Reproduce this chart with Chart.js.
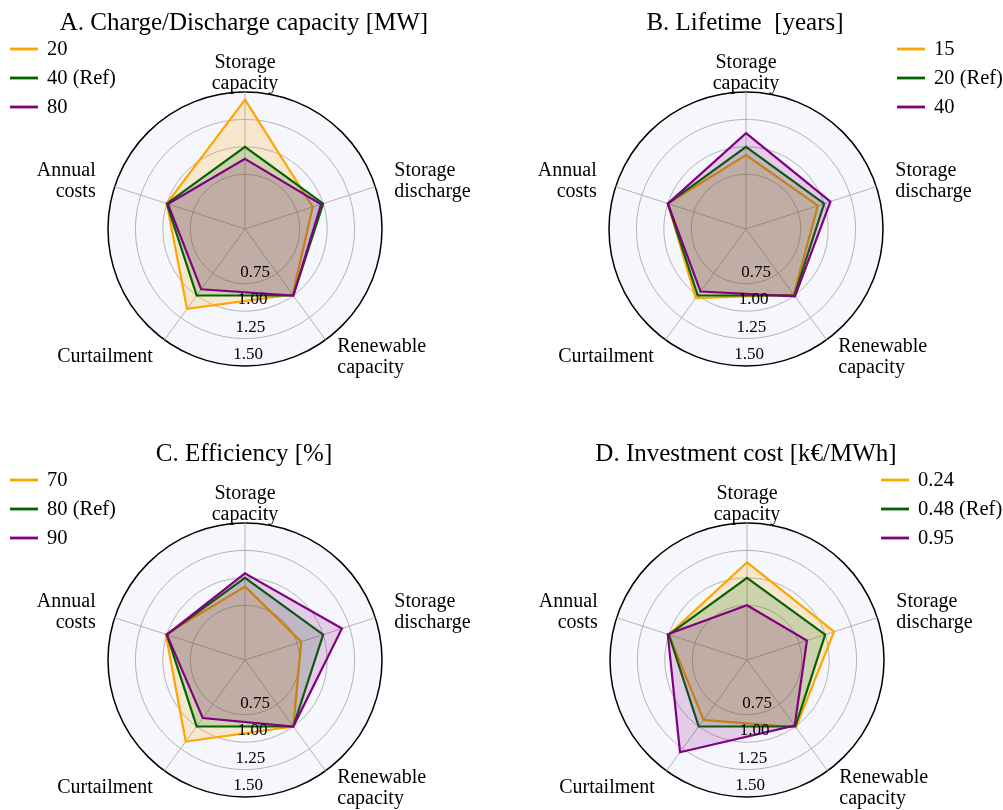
<!DOCTYPE html>
<html>
<head>
<meta charset="utf-8">
<script src="https://cdn.jsdelivr.net/npm/chart.js@4"></script>
<style>
  body { margin: 0; background: #fff; }
  .panel { position: absolute; width: 501px; height: 405px; }
</style>
</head>
<body>
<div class="panel" style="left:0;top:0"><canvas id="chartA" width="501" height="405"></canvas></div>
<div class="panel" style="left:501px;top:0"><canvas id="chartB" width="501" height="405"></canvas></div>
<div class="panel" style="left:0;top:405px"><canvas id="chartC" width="501" height="405"></canvas></div>
<div class="panel" style="left:501px;top:405px"><canvas id="chartD" width="501" height="405"></canvas></div>
<script>
// axes of every radar, clockwise from the top
const axisLabels = [["Storage", "capacity"], ["Storage", "discharge"], ["Renewable", "capacity"], ["Curtailment"], ["Annual", "costs"]];
const tickValues = [0.75, 1.00, 1.25, 1.50];

const titleA = "A. Charge/Discharge capacity [MW]";
const legendA = ["20", "40 (Ref)", "80"];
const lowA = [1.43, 0.90, 0.99, 1.15, 1.00];
const refA = [1, 1, 1, 1, 1];
const highA = [0.89, 0.98, 1.00, 0.93, 0.99];

const titleB = "B. Lifetime  [years]";
const legendB = ["15", "20 (Ref)", "40"];
const lowB = [0.925, 0.94, 0.99, 1.03, 1.00];
const refB = [1, 1, 1, 1, 1];
const highB = [1.125, 1.06, 1.01, 0.955, 1.00];

const titleC = "C. Efficiency [%]";
const legendC = ["70", "80 (Ref)", "90"];
const lowC = [0.92, 0.79, 1.00, 1.17, 1.01];
const refC = [1, 1, 1, 1, 1];
const highC = [1.04, 1.18, 1.00, 0.905, 1.00];

const titleD = "D. Investment cost [k€/MWh]";
const legendD = ["0.24", "0.48 (Ref)", "0.95"];
const lowD = [1.14, 1.085, 1.01, 0.925, 1.00];
const refD = [1, 1, 1, 1, 1];
const highD = [0.75, 0.825, 0.99, 1.29, 1.01];

const colors = ["#FFA500", "#006400", "#800080"];
const fills = ["rgba(255,165,0,0.18)", "rgba(0,100,0,0.17)", "rgba(128,0,128,0.17)"];
const serif = "'Liberation Serif', 'Times New Roman', serif";
const textColor = "#000";

// titles, legend, axis names and r labels drawn around the library's radial scale
const panelText = {
    id: "panelText",
    afterDraw(chart, args, opts) {
        const ctx = chart.ctx;
        const scale = chart.scales.r;
        const cx = scale.xCenter, cy = scale.yCenter;
        ctx.save();
        ctx.fillStyle = textColor;

        // title
        ctx.font = "25px " + serif;
        ctx.textAlign = "center";
        ctx.textBaseline = "alphabetic";
        ctx.fillText(opts.title, cx - 1, cy - 199);

        // legend
        ctx.font = "20.5px " + serif;
        ctx.textAlign = "left";
        ctx.textBaseline = "middle";
        chart.data.datasets.forEach((ds, i) => {
            const y = cy - 180 + i * 29;
            const x = cx + opts.legendDx;
            ctx.strokeStyle = ds.borderColor;
            ctx.lineWidth = 2.8;
            ctx.beginPath();
            ctx.moveTo(x, y);
            ctx.lineTo(x + 28, y);
            ctx.stroke();
            ctx.fillText(ds.label, x + 37, y + 1);
        });

        // axis names
        ctx.font = "20px " + serif;
        chart.data.labels.forEach((lines, i) => {
            const p = scale.getPointPosition(i, scale.drawingArea + 20);
            const dx = p.x - cx;
            ctx.textAlign = Math.abs(dx) < 1 ? "center" : (dx > 0 ? "left" : "right");
            const y0 = p.y - (lines.length - 1) * 21 / 2;
            lines.forEach((t, k) => ctx.fillText(t, p.x, y0 + k * 21 + 1));
        });

        // radial tick labels
        ctx.font = "17px " + serif;
        ctx.textAlign = "center";
        tickValues.forEach(v => {
            const r = scale.getDistanceFromCenterForValue(v);
            ctx.fillText(v.toFixed(2), cx + 14.7 - 0.085 * r, cy + 0.996 * r - 11);
        });
        ctx.restore();
    }
};

function makeRadar(id, title, legend, series, legendDx, padding) {
    const datasets = series.map((values, i) => ({
        label: legend[i],
        data: values,
        borderColor: colors[i],
        backgroundColor: fills[i],
        borderWidth: 2.2,
        pointRadius: 0,
        fill: "start",
        order: 2 - i
    }));
    return new Chart(document.getElementById(id), {
        type: "radar",
        data: { labels: axisLabels, datasets: datasets },
        plugins: [panelText],
        options: {
            responsive: false,
            animation: false,
            layout: { padding: padding },
            elements: { line: { tension: 0, borderJoinStyle: "miter" } },
            plugins: {
                legend: { display: false },
                title: { display: false },
                tooltip: { enabled: false },
                panelText: { title: title, legendDx: legendDx }
            },
            scales: {
                r: {
                    min: 0.25,
                    max: 1.5,
                    backgroundColor: "#f6f6fd",
                    ticks: { display: false, stepSize: 0.25 },
                    pointLabels: { display: false },
                    angleLines: { color: "#b4b4b4", lineWidth: 1 },
                    grid: {
                        circular: true,
                        color: c => c.tick.value >= 1.5 ? "#000" : (tickValues.includes(c.tick.value) ? "#b4b4b4" : "rgba(0,0,0,0)"),
                        lineWidth: c => c.tick.value >= 1.5 ? 1.5 : 1
                    }
                }
            }
        }
    });
}

makeRadar("chartA", titleA, legendA, [lowA, refA, highA], -235, { left: 108, right: 119, top: 92, bottom: 39 });
makeRadar("chartB", titleB, legendB, [lowB, refB, highB], 151, { left: 108, right: 119, top: 92, bottom: 39 });
makeRadar("chartC", titleC, legendC, [lowC, refC, highC], -235, { left: 108, right: 119, top: 118, bottom: 13 });
makeRadar("chartD", titleD, legendD, [lowD, refD, highD], 134, { left: 109, right: 118, top: 118, bottom: 13 });
</script>
</body>
</html>
